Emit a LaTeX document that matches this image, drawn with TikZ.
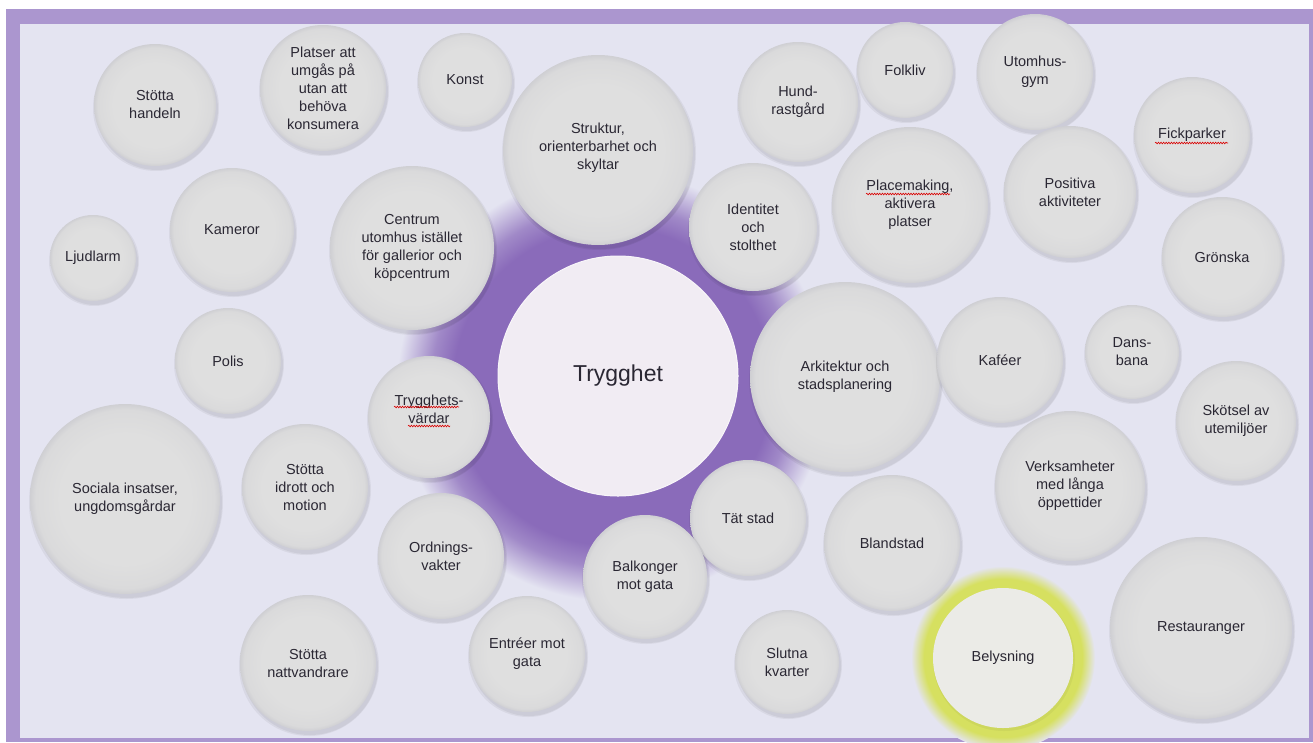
\documentclass[tikz,border=0pt]{standalone}
\usepackage{fontspec}
\setmainfont{Liberation Sans}
\usetikzlibrary{decorations.pathmorphing,calc}
\definecolor{bgc}{HTML}{E4E4F1}
\definecolor{framec}{HTML}{AB96CF}
\definecolor{bubA}{HTML}{DFDFDF}
\definecolor{bubB}{HTML}{DADADB}
\definecolor{bubC}{HTML}{CFCFD3}
\definecolor{glowc}{HTML}{8A6BBA}
\definecolor{txtc}{HTML}{2A2733}
\definecolor{centerc}{HTML}{F1ECF3}
\definecolor{yelc}{HTML}{D6E060}
\definecolor{belc}{HTML}{EBEBE7}
\pgfdeclareradialshading{bubshade}{\pgfpoint{0bp}{0bp}}{color(0bp)=(bubA); color(17bp)=(bubA); color(23.5bp)=(bubB); color(25bp)=(bubC); color(50bp)=(bubC)}
\pgfdeclareradialshading{glowshade}{\pgfpoint{0bp}{0bp}}{color(0bp)=(glowc); color(18.5bp)=(glowc); color(21bp)=(glowc!75!bgc); color(25bp)=(bgc); color(50bp)=(bgc)}
\pgfdeclareradialshading{yelshade}{\pgfpoint{0bp}{0bp}}{color(0bp)=(yelc); color(21.5bp)=(yelc); color(25bp)=(bgc); color(50bp)=(bgc)}
\newcommand\bub[6][0]{%
  \fill[black,opacity=.05] (#3+1,#4+3) circle[radius=#5pt+2pt];
  \fill[black,opacity=.05] (#3+2,#4+4) circle[radius=#5pt];
  \node[bubble, minimum size=2*#5pt] (#2) at (#3,#4) {};
  \node[bubtxt] (#2-t) at (#3,#4+#1) {#6};
}
\begin{document}
\begin{tikzpicture}[x=1pt,y=-1pt,
  bubble/.style={circle, inner sep=0pt, shade, shading=bubshade},
  bubtxt/.style={align=center, text=txtc, inner sep=0pt, font=\fontsize{14.5}{18}\selectfont},
  squig/.style={draw=red!85!black, line width=0.6pt, decorate, decoration={snake, amplitude=0.8pt, segment length=2.6pt}}]
\useasboundingbox (0,0) rectangle (1313,742);
\fill[white] (0,0) rectangle (1313,742);
\fill[framec] (6,9) rectangle (1313,742);
\fill[bgc] (20,24) rectangle (1309,738);
% glows
\shade[shading=glowshade] (612,386) circle[radius=215pt];
\shade[shading=yelshade] (1003,658) circle[radius=92pt];
% bubbles
\bub{handeln}{155}{105}{61}{Stötta\\handeln}
\bub{platser}{323}{88}{63}{Platser att\\umgås på\\utan att\\behöva\\konsumera}
\bub{konst}{465}{80}{47}{Konst}
\bub[-2]{struktur}{598}{150}{95}{Struktur,\\orienterbarhet och\\skyltar}
\bub{hund}{798}{102}{60}{Hund-\\rastgård}
\bub{folkliv}{905}{70}{48}{Folkliv}
\bub{gym}{1035}{72}{58}{Utomhus-\\gym}
\bub{fick}{1192}{135}{58}{Fickparker}
\bub{kameror}{232}{230}{62}{Kameror}
\bub{ljud}{93}{258}{43}{Ljudlarm}
\bub{centrum}{412}{248}{82}{Centrum\\utomhus istället\\för gallerior och\\köpcentrum}
\bub{identitet}{753}{227}{64}{Identitet\\och\\stolthet}
\bub{placemaking}{910}{205}{78}{Placemaking,\\aktivera\\platser}
\bub{positiva}{1070}{192}{66}{Positiva\\aktiviteter}
\bub{gronska}{1222}{257}{60}{Grönska}
\bub{polis}{228}{361}{53}{Polis}
\bub{arkitektur}{845}{377}{95}{Arkitektur och\\stadsplanering}
\bub{kafeer}{1000}{360}{63}{Kaféer}
\bub{dans}{1132}{352}{47}{Dans-\\bana}
\bub[-8]{vardar}{429}{417}{61}{Trygghets-\\värdar}
\bub{skotsel}{1236}{421}{60}{Skötsel av\\utemiljöer}
\bub{sociala}{125}{499}{95}{Sociala insatser,\\ungdomsgårdar}
\bub{idrott}{305}{487}{63}{Stötta\\idrott och\\motion}
\bub{tat}{748}{518}{58}{Tät stad}
\bub{verksamheter}{1070}{486}{75}{Verksamheter\\med långa\\öppettider}
\bub{blandstad}{892}{543}{68}{Blandstad}
\bub{ordning}{441}{556}{63}{Ordnings-\\vakter}
\bub{balkonger}{645}{577}{62}{Balkonger\\mot gata}
\bub{restauranger}{1201}{628}{91}{Restauranger}
\bub{natt}{308}{663}{68}{Stötta\\nattvandrare}
\bub{entreer}{527}{654}{58}{Entréer mot\\gata}
\bub{slutna}{787}{662}{52}{Slutna\\kvarter}
% Belysning
\fill[black,opacity=.04] (1004,660) circle[radius=71pt];
\node[circle, inner sep=0pt, minimum size=140pt, fill=belc] (belysning) at (1003,658) {};
\node[bubtxt] (belysning-t) at (1003,658) {Belysning};
% Trygghet
\node[circle, inner sep=0pt, minimum size=240pt, fill=centerc, draw=white!50!centerc, line width=1pt] (trygghet) at (618,376) {};
\node[bubtxt, font=\fontsize{23}{26}\selectfont] (trygghet-t) at (618,376) {Trygghet};
% spelling squiggles
\draw[squig] ($(fick-t.center)+(-37,8)$) -- ($(fick-t.center)+(36,8)$);
\draw[squig] ($(placemaking-t.center)+(-44,-11)$) -- ($(placemaking-t.center)+(40,-11)$);
\draw[squig] ($(vardar-t.center)+(-35,-2)$) -- ($(vardar-t.center)+(30,-2)$);
\draw[squig] ($(vardar-t.center)+(-21,17)$) -- ($(vardar-t.center)+(21,17)$);
\end{tikzpicture}
\end{document}
